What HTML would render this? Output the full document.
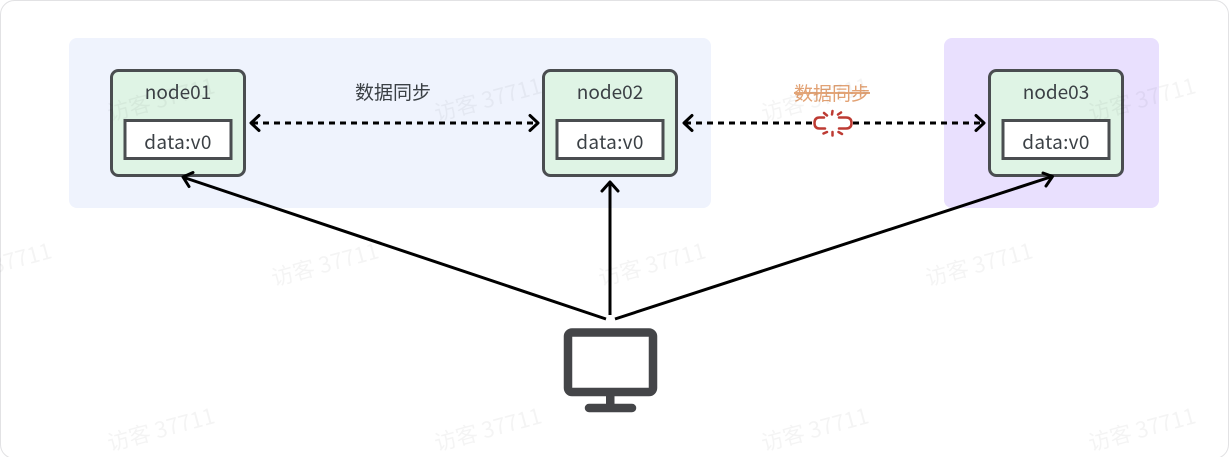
<!DOCTYPE html>
<html>
<head>
<meta charset="utf-8">
<style>
html,body{margin:0;padding:0;background:#fff;width:1229px;height:457px;overflow:hidden}
svg{display:block}
text{font-family:"Noto Sans CJK SC","Liberation Sans",sans-serif}
.n{font-size:19px;fill:#3b4045;text-anchor:middle}
.t{letter-spacing:.3px}
.w{font-size:22px;fill:#000;fill-opacity:.042;text-anchor:middle}
.box{fill:#dff4e5;stroke:#4a4d50;stroke-width:3}
.in{fill:#fff;stroke:#4a4d50;stroke-width:3}
.a{fill:none;stroke:#000;stroke-width:3;stroke-linecap:round;stroke-linejoin:round}
.d{fill:none;stroke:#000;stroke-width:3;stroke-dasharray:6 5}
.l{fill:none;stroke:#000;stroke-width:3}
.r{fill:none;stroke:#bd3b33;stroke-width:2.5;stroke-linecap:round}
</style>
</head>
<body>
<svg width="1229" height="457" viewBox="0 0 1229 457" xmlns="http://www.w3.org/2000/svg">
<rect x="0.5" y="0.5" width="1228" height="458" rx="14" fill="#fff" stroke="#e2e2e4"/>

<rect x="69" y="38" width="642" height="170" rx="8" fill="#eff3fd"/>
<rect x="944" y="38" width="215" height="170" rx="8" fill="#e9e0fe"/>

<!-- nodes -->
<rect class="box" x="111.5" y="70.5" width="133" height="105" rx="7"/>
<rect class="in" x="125" y="120.5" width="106" height="38"/>
<text class="n" x="178" y="99">node01</text>
<text class="n t" x="178" y="149">data:v0</text>

<rect class="box" x="543.5" y="70.5" width="133" height="105" rx="7"/>
<rect class="in" x="557" y="120.5" width="106" height="38"/>
<text class="n" x="610" y="99">node02</text>
<text class="n t" x="610" y="149">data:v0</text>

<rect class="box" x="989.5" y="70.5" width="133" height="105" rx="7"/>
<rect class="in" x="1003" y="120.5" width="106" height="38"/>
<text class="n" x="1056" y="99">node03</text>
<text class="n t" x="1056" y="149">data:v0</text>

<!-- dashed connectors -->
<line class="d" x1="252" y1="123" x2="538" y2="123"/>
<path class="a" d="M259 115.500 L251 123 L259 130.500 M530 115.500 L538 123 L530 130.500"/>
<line class="d" x1="685" y1="123" x2="812" y2="123"/>
<line class="d" x1="853" y1="123" x2="983" y2="123"/>
<path class="a" d="M692 115.500 L684 123 L692 130.500 M976 115.500 L984 123 L976 130.500"/>

<!-- labels -->
<text x="393" y="99" font-size="19" fill="#3b4045" text-anchor="middle">数据同步</text>
<text x="832" y="100" font-size="19" fill="#e2a274" text-anchor="middle" text-decoration="line-through">数据同步</text>

<!-- broken link -->
<g class="r">
<path d="M824 117.500 H819.500 Q814.500 117.500 814.500 123 Q814.500 128.500 819.500 128.500 H825"/>
<path d="M839 117.500 H846 Q851.500 117.500 851.500 123 Q851.500 128.500 846 128.500 H839"/>
<path d="M832.500 111 L832 114.500 M824 113 L827 115.500 M841 112.500 L838 114.500 M832.500 132 L832.500 135.500 M823.500 133.500 L827 132 M842 134 L838.500 132"/>
</g>

<!-- solid connectors -->
<line class="l" x1="606" y1="319" x2="184" y2="177.500"/>
<path class="a" d="M193 172.500 L183 177 L189 186.500"/>
<line class="l" x1="610" y1="315" x2="610" y2="183"/>
<path class="a" d="M602 191 L610 182 L618 191"/>
<line class="l" x1="615" y1="319" x2="1052" y2="176.500"/>
<path class="a" d="M1043 173 L1052.500 176.500 L1046 186"/>

<!-- monitor -->
<rect x="568" y="332.500" width="85" height="59.500" rx="4" fill="#fff" stroke="#444548" stroke-width="8.500"/>
<rect x="606" y="394" width="8.500" height="12" fill="#444548"/>
<line x1="589" y1="408" x2="632" y2="408" stroke="#444548" stroke-width="8.500" stroke-linecap="round"/>

<!-- watermarks on top -->
<g>
<text class="w" transform="translate(163,107) rotate(-15)">访客 37711</text>
<text class="w" transform="translate(490,107) rotate(-15)">访客 37711</text>
<text class="w" transform="translate(817,107) rotate(-15)">访客 37711</text>
<text class="w" transform="translate(1144,107) rotate(-15)">访客 37711</text>
<text class="w" transform="translate(0,272) rotate(-15)">访客 37711</text>
<text class="w" transform="translate(327,272) rotate(-15)">访客 37711</text>
<text class="w" transform="translate(654,272) rotate(-15)">访客 37711</text>
<text class="w" transform="translate(981,272) rotate(-15)">访客 37711</text>
<text class="w" transform="translate(163,437) rotate(-15)">访客 37711</text>
<text class="w" transform="translate(490,437) rotate(-15)">访客 37711</text>
<text class="w" transform="translate(817,437) rotate(-15)">访客 37711</text>
<text class="w" transform="translate(1144,437) rotate(-15)">访客 37711</text>
</g>
</svg>
</body>
</html>
